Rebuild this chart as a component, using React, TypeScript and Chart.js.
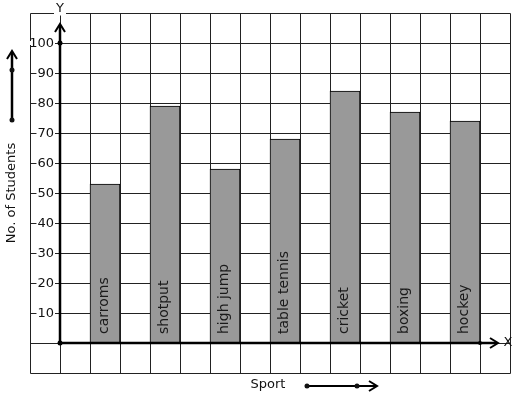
import React, { useEffect, useRef } from "react";
import { Chart, registerables } from "chart.js";

Chart.register(...registerables);

const categories = ["carroms", "shotput", "high jump", "table tennis", "cricket", "boxing", "hockey"];
const values = [53, 79, 58, 68, 84, 77, 74];
const positions = [1.5, 3.5, 5.5, 7.5, 9.5, 11.5, 13.5];
const yTicks = [10, 20, 30, 40, 50, 60, 70, 80, 90, 100];

const FONT = "13px 'DejaVu Sans', sans-serif";
const BAR_FONT = "14px 'DejaVu Sans', sans-serif";

function arrowUp(ctx: CanvasRenderingContext2D, x: number, y: number) {
  ctx.beginPath();
  ctx.moveTo(x - 5, y + 8);
  ctx.lineTo(x, y);
  ctx.lineTo(x + 5, y + 8);
  ctx.stroke();
}
function arrowRight(ctx: CanvasRenderingContext2D, x: number, y: number) {
  ctx.beginPath();
  ctx.moveTo(x - 8, y - 5);
  ctx.lineTo(x, y);
  ctx.lineTo(x - 8, y + 5);
  ctx.stroke();
}
function dot(ctx: CanvasRenderingContext2D, x: number, y: number, r = 2.5) {
  ctx.beginPath();
  ctx.arc(x, y, r, 0, Math.PI * 2);
  ctx.fill();
}

const gridPlugin = {
  id: "gridPlugin",
  beforeDatasetsDraw(chart: any) {
    const ctx = chart.ctx as CanvasRenderingContext2D;
    const xs = chart.scales.x;
    const ys = chart.scales.y;
    ctx.save();
    ctx.strokeStyle = "#222";
    ctx.lineWidth = 1;
    const top = Math.round(ys.getPixelForValue(110)) + 0.5;
    const bottom = Math.round(ys.getPixelForValue(-10)) + 0.5;
    const left = Math.round(xs.getPixelForValue(-1)) + 0.5;
    const right = Math.round(xs.getPixelForValue(15)) + 0.5;
    for (let i = -1; i <= 15; i++) {
      const px = Math.round(xs.getPixelForValue(i)) + 0.5;
      ctx.beginPath();
      ctx.moveTo(px, top);
      ctx.lineTo(px, bottom);
      ctx.stroke();
    }
    for (let v = -10; v <= 110; v += 10) {
      const py = Math.round(ys.getPixelForValue(v)) + 0.5;
      ctx.beginPath();
      ctx.moveTo(left, py);
      ctx.lineTo(right, py);
      ctx.stroke();
    }
    ctx.font = FONT;
    ctx.textBaseline = "middle";
    ctx.textAlign = "right";
    for (const t of yTicks) {
      const py = ys.getPixelForValue(t);
      const label = String(t);
      const w = ctx.measureText(label).width;
      ctx.fillStyle = "#fff";
      ctx.fillRect(54 - w - 1, py - 2, w + 2, 4);
      ctx.fillStyle = "#111";
      ctx.fillText(label, 54, py + 1);
    }
    const y0x = xs.getPixelForValue(0);
    ctx.fillStyle = "#fff";
    ctx.fillRect(y0x - 6, top - 2, 12, 4);
    ctx.fillStyle = "#111";
    ctx.textAlign = "center";
    ctx.fillText("Y", y0x, 9);
    ctx.restore();
  },
  afterDatasetsDraw(chart: any) {
    const ctx = chart.ctx as CanvasRenderingContext2D;
    const xs = chart.scales.x;
    const ys = chart.scales.y;
    ctx.save();
    const meta = chart.getDatasetMeta(0);
    ctx.font = BAR_FONT;
    ctx.fillStyle = "#1a1a1a";
    ctx.textAlign = "left";
    ctx.textBaseline = "middle";
    meta.data.forEach((bar: any, i: number) => {
      ctx.save();
      ctx.translate(bar.x - 0.5, ys.getPixelForValue(0) - 9);
      ctx.rotate(-Math.PI / 2);
      ctx.fillText(categories[i], 0, 0);
      ctx.restore();
    });
    const ox = xs.getPixelForValue(0);
    const oy = ys.getPixelForValue(0);
    ctx.strokeStyle = "#000";
    ctx.fillStyle = "#000";
    ctx.lineWidth = 2.5;
    ctx.beginPath();
    ctx.moveTo(ox, oy);
    ctx.lineTo(ox, 25);
    ctx.stroke();
    ctx.beginPath();
    ctx.moveTo(ox, oy);
    ctx.lineTo(497, oy);
    ctx.stroke();
    ctx.lineWidth = 2;
    arrowUp(ctx, ox, 24);
    arrowRight(ctx, 498, oy);
    dot(ctx, ox, ys.getPixelForValue(100));
    dot(ctx, ox, oy);
    dot(ctx, xs.getPixelForValue(14), oy, 2);
    ctx.font = FONT;
    ctx.textAlign = "center";
    ctx.textBaseline = "middle";
    ctx.fillStyle = "#111";
    ctx.fillText("X", 508, oy);
    ctx.lineWidth = 2.5;
    ctx.beginPath();
    ctx.moveTo(12, 120);
    ctx.lineTo(12, 52);
    ctx.stroke();
    ctx.lineWidth = 2;
    arrowUp(ctx, 12, 51);
    dot(ctx, 12, 70);
    dot(ctx, 12, 120);
    ctx.save();
    ctx.translate(12, 193);
    ctx.rotate(-Math.PI / 2);
    ctx.fillStyle = "#111";
    ctx.fillText("No. of Students", 0, 0);
    ctx.restore();
    ctx.fillStyle = "#111";
    ctx.fillText("Sport", 268, 385);
    ctx.lineWidth = 2;
    ctx.beginPath();
    ctx.moveTo(307, 386);
    ctx.lineTo(376, 386);
    ctx.stroke();
    arrowRight(ctx, 377, 386);
    dot(ctx, 307, 386);
    dot(ctx, 357, 386);
    ctx.restore();
  },
};

export default function App() {
  const ref = useRef<HTMLCanvasElement>(null);
  useEffect(() => {
    if (!ref.current) return;
    const chart = new Chart(ref.current, {
      type: "bar",
      data: {
        datasets: [
          {
            data: positions.map((p, i) => ({ x: p, y: values[i] })),
            backgroundColor: "#999999",
            borderColor: "#000",
            borderWidth: { top: 1, left: 1, right: 1, bottom: 0 },
            borderSkipped: "bottom",
            barThickness: 30,
          },
        ],
      },
      options: {
        responsive: false,
        animation: false,
        events: [],
        layout: { padding: { left: 30, top: 13, right: 7, bottom: 26 } },
        plugins: { legend: { display: false }, tooltip: { enabled: false } },
        scales: {
          x: { type: "linear", min: -1, max: 15, offset: false, display: false, grid: { offset: false } },
          y: { type: "linear", min: -10, max: 110, display: false },
        },
      },
      plugins: [gridPlugin],
    });
    return () => chart.destroy();
  }, []);
  return (
    <div style={{ position: "fixed", left: 0, top: 0, width: 517, height: 399, background: "#fff" }}>
      <canvas ref={ref} width={517} height={399} style={{ display: "block" }} />
    </div>
  );
}
